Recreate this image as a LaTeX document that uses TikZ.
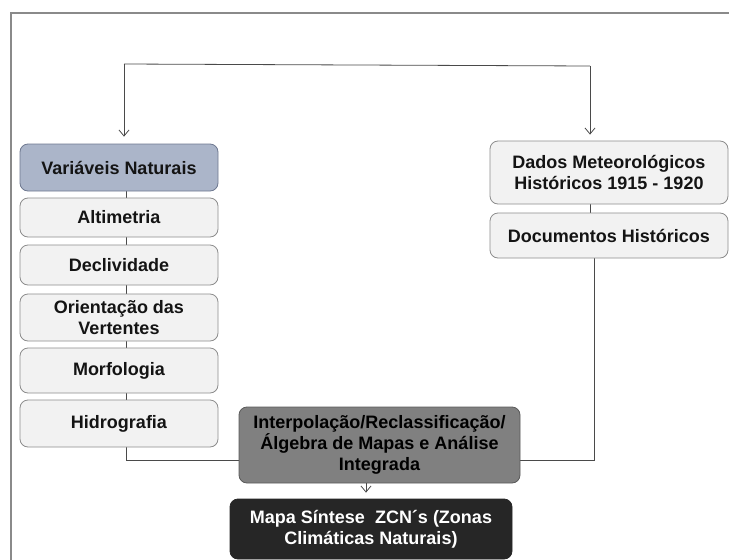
\documentclass[tikz,border=0pt]{standalone}
\usepackage{fontspec}
\setmainfont{Liberation Sans}
\usetikzlibrary{arrows.meta,backgrounds}
\definecolor{framegray}{HTML}{8A8A8A}
\definecolor{linegray}{HTML}{4A4A4A}
\definecolor{boxfill}{HTML}{F2F2F2}
\definecolor{boxborder}{HTML}{8C8C8C}
\definecolor{vnfill}{HTML}{ABB5C9}
\definecolor{vnborder}{HTML}{6E7890}
\definecolor{intfill}{HTML}{808080}
\definecolor{intborder}{HTML}{5A5A5A}
\definecolor{mapafill}{HTML}{262626}
\definecolor{txt}{HTML}{141414}
\tikzset{
  box/.style={draw=boxborder, fill=boxfill, rounded corners=8pt, line width=0.8pt,
    align=center, inner sep=0pt, text=txt,
    font=\fontsize{18}{21}\selectfont\bfseries},
  vnbox/.style={box, fill=vnfill, draw=vnborder},
  intbox/.style={box, fill=intfill, draw=intborder, text=black},
  mapabox/.style={box, fill=mapafill, draw=mapafill, text=white},
  conn/.style={draw=linegray, line width=0.8pt},
  arr/.style={conn, -{Straight Barb[length=6pt,width=10pt]}},
}
\begin{document}
\begin{tikzpicture}[x=1pt,y=-1pt]
\useasboundingbox (0,0) rectangle (729,560);
% frame
\draw[framegray, line width=2pt] (11,562) -- (11,13) -- (731,13);

% left column
\node[vnbox, minimum width=198pt, minimum height=47pt] (vn) at (119,167.5) {Variáveis Naturais};
\node[box, minimum width=198pt, minimum height=39pt] (alt) at (119,217.5) {Altimetria};
\node[box, minimum width=198pt, minimum height=40pt] (dec) at (119,265) {Declividade};
\node[box, minimum width=198pt, minimum height=47pt] (ori) at (119,317.5) {Orientação das\\Vertentes};
\node[box, minimum width=198pt, minimum height=45pt] (mor) at (119,370.5) {Morfologia};
\node[box, minimum width=198pt, minimum height=47pt] (hid) at (119,423.5) {Hidrografia};

% right column
\node[box, minimum width=238pt, minimum height=63pt] (dados) at (609,172.5) {Dados Meteorológicos\\Históricos 1915 - 1920};
\node[box, minimum width=238pt, minimum height=45pt] (doc) at (609,235.5) {Documentos Históricos};

% bottom
\node[intbox, minimum width=281pt, minimum height=76pt] (int) at (379.5,445) {Interpolação/Reclassificação/\\Álgebra de Mapas e Análise\\Integrada};
\node[mapabox, minimum width=282pt, minimum height=60pt] (mapa) at (371,529) {Mapa Síntese\ \ ZCN´s (Zonas\\Climáticas Naturais)};

% coordinates
\coordinate (tl) at (124,64);
\coordinate (tr) at (590,66);
\coordinate (lb) at (126,460);
\coordinate (rb) at (594,460);

% connectors
\draw[conn] (tl) -- (tr);
\draw[arr, shorten >=7pt] (tl) -- (tl |- vn.north);
\draw[arr, shorten >=6pt] (tr) -- (tr |- dados.north);
\begin{scope}[on background layer]
  \draw[conn] ([xshift=7pt]vn.south) -- (lb) -- (lb -| int.west);
  \draw[conn] ([xshift=-19pt]dados.south) -- ([xshift=-19pt]doc.north);
  \draw[conn] ([xshift=-15pt]doc.south) -- (rb) -- (rb -| int.east);
\end{scope}
\draw[arr, shorten >=6pt] ([xshift=-13.5pt]int.south) -- ([xshift=-13.5pt]int.south |- mapa.north);
\end{tikzpicture}
\end{document}
